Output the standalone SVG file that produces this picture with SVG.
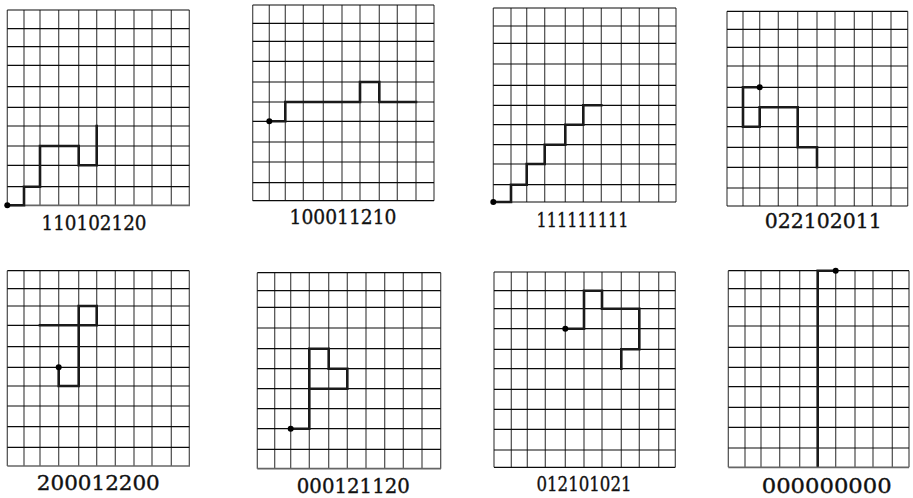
<svg xmlns="http://www.w3.org/2000/svg" width="913" height="498" viewBox="0 0 913 498">
<style>
.v{stroke:#4a4a4a;stroke-width:1.2;fill:none}
.h{stroke:#0a0a0a;stroke-width:1.2;fill:none}
.b{stroke:#666;stroke-width:1.7;fill:none}
.p{stroke:#1a1a1a;stroke-width:2.6;fill:none;stroke-linejoin:miter;stroke-linecap:square}
.d{fill:#000}
.t{font-family:"DejaVu Serif","Liberation Serif",serif;font-size:20.5px;fill:#111;stroke:#111;stroke-width:0.35;text-anchor:middle}
</style>
<rect width="913" height="498" fill="#fff"/>
<g id="panel1">
<path class="v" d="M7.3 10V205.3M24 10V205.3M40 10V205.3M58.7 10V205.3M78.7 10V205.3M96.7 10V205.3M115.3 10V205.3M134 10V205.3M152 10V205.3M171.3 10V205.3M189.3 10V205.3"/>
<path class="h" d="M7.3 10H189.3M7.3 28.7H189.3M7.3 46.7H189.3M7.3 65.3H189.3M7.3 86.7H189.3M7.3 107.3H189.3M7.3 126H189.3M7.3 146H189.3M7.3 165.3H189.3M7.3 186.7H189.3"/>
<path class="b" d="M7.3 205.3H190"/>
<path class="p" d="M7.3 205.3H24V186.7H40V146H78.7V165.3H96.7V126"/>
<circle class="d" cx="7.3" cy="205.3" r="3"/>
<text class="t" x="94" y="229.5" textLength="105" lengthAdjust="spacingAndGlyphs">110102120</text>
</g>
<g id="panel2">
<path class="v" d="M252.7 5V200.7M269.3 5V200.7M285.3 5V200.7M303.3 5V200.7M323.3 5V200.7M342 5V200.7M360 5V200.7M379.3 5V200.7M397.3 5V200.7M416 5V200.7M434 5V200.7"/>
<path class="h" d="M252.7 5H434M252.7 23.3H434M252.7 41.3H434M252.7 61.3H434M252.7 82H434M252.7 102H434M252.7 121.3H434M252.7 142H434M252.7 162H434M252.7 182.7H434M252.7 200.7H434"/>
<path class="p" d="M269.3 121.3H285.3V102H360V82H379.3V102H416"/>
<circle class="d" cx="269.3" cy="121.3" r="3"/>
<text class="t" x="343" y="223.5" textLength="107" lengthAdjust="spacingAndGlyphs">100011210</text>
</g>
<g id="panel3">
<path class="v" d="M493.3 8V202M511 8V202M526.7 8V202M544.7 8V202M565.3 8V202M583.3 8V202M601.3 8V202M621.3 8V202M639.3 8V202M658.7 8V202M676 8V202"/>
<path class="h" d="M493.3 8H676M493.3 26H676M493.3 43.3H676M493.3 64H676M493.3 85.3H676M493.3 105.3H676M493.3 124.7H676M493.3 144.7H676M493.3 164H676M493.3 184.7H676M493.3 202H676"/>
<path class="p" d="M493.3 202H511V184.7H526.7V164H544.7V144.7H565.3V124.7H583.3V105.3H601.3"/>
<circle class="d" cx="493.3" cy="202" r="3"/>
<text class="t" x="582.5" y="226.5" textLength="92" lengthAdjust="spacingAndGlyphs">111111111</text>
</g>
<g id="panel4">
<path class="v" d="M727 11.3V206M743 11.3V206M759.7 11.3V206M778.3 11.3V206M797.7 11.3V206M817 11.3V206M835 11.3V206M854.3 11.3V206M872.3 11.3V206M891 11.3V206M907.7 11.3V206"/>
<path class="h" d="M727 11.3H907.7M727 29.3H907.7M727 47.3H907.7M727 66H907.7M727 87.3H907.7M727 107.3H907.7M727 126.7H907.7M727 147.3H907.7M727 167.3H907.7M727 188H907.7M727 206H907.7"/>
<path class="p" d="M759.7 87.3H743V126.7H759.7V107.3H797.7V147.3H817V167.3"/>
<circle class="d" cx="759.7" cy="87.3" r="3"/>
<text class="t" x="823.3" y="228" textLength="117" lengthAdjust="spacingAndGlyphs">022102011</text>
</g>
<g id="panel5">
<path class="v" d="M7.3 270.7V466M24 270.7V466M40 270.7V466M58.7 270.7V466M78.7 270.7V466M96.7 270.7V466M115.3 270.7V466M134 270.7V466M152 270.7V466M171.3 270.7V466M189.3 270.7V466"/>
<path class="h" d="M7.3 270.7H189.3M7.3 288.7H189.3M7.3 306H189.3M7.3 325.3H189.3M7.3 346.7H189.3M7.3 367.3H189.3M7.3 386H189.3M7.3 406H189.3M7.3 426.7H189.3M7.3 447.3H189.3"/>
<path class="b" d="M7.3 466H190"/>
<path class="p" d="M58.7 367.3V386H78.7V306H96.7V325.3H40"/>
<circle class="d" cx="58.7" cy="367.3" r="3"/>
<text class="t" x="98.3" y="489.5" textLength="123" lengthAdjust="spacingAndGlyphs">200012200</text>
</g>
<g id="panel6">
<path class="v" d="M257.3 272.7V468.7M274.7 272.7V468.7M290.7 272.7V468.7M309.3 272.7V468.7M328.7 272.7V468.7M347.3 272.7V468.7M366 272.7V468.7M384.7 272.7V468.7M403.3 272.7V468.7M422 272.7V468.7M440.7 272.7V468.7"/>
<path class="h" d="M257.3 272.7H440.7M257.3 290.7H440.7M257.3 307.3H440.7M257.3 328H440.7M257.3 348.7H440.7M257.3 368.7H440.7M257.3 388.7H440.7M257.3 408.7H440.7M257.3 428.7H440.7M257.3 449.3H440.7"/>
<path class="b" d="M257.3 468.7H441"/>
<path class="p" d="M290.7 428.7H309.3V348.7H328.7V368.7H347.3V388.7H309.3"/>
<circle class="d" cx="290.7" cy="428.7" r="3"/>
<text class="t" x="353.3" y="492.5" textLength="113" lengthAdjust="spacingAndGlyphs">000121120</text>
</g>
<g id="panel7">
<path class="v" d="M494 272V467.3M511.3 272V467.3M527.3 272V467.3M545.3 272V467.3M565.3 272V467.3M584 272V467.3M602 272V467.3M621.3 272V467.3M639.3 272V467.3M658.7 272V467.3M675.3 272V467.3"/>
<path class="h" d="M494 272H675.3M494 290.7H675.3M494 308.7H675.3M494 328.7H675.3M494 349.3H675.3M494 368.7H675.3M494 389.3H675.3M494 409.3H675.3M494 429.3H675.3M494 450H675.3M494 467.3H675.3"/>
<path class="p" d="M565.3 328.7H584V290.7H602V308.7H639.3V349.3H621.3V368.7"/>
<circle class="d" cx="565.3" cy="328.7" r="3"/>
<text class="t" x="584" y="490.5" textLength="95" lengthAdjust="spacingAndGlyphs">012101021</text>
</g>
<g id="panel8">
<path class="v" d="M728.3 270.7V467.3M745 270.7V467.3M761 270.7V467.3M779.7 270.7V467.3M799.7 270.7V467.3M817.7 270.7V467.3M835.7 270.7V467.3M855 270.7V467.3M873 270.7V467.3M892.3 270.7V467.3M909 270.7V467.3"/>
<path class="h" d="M728.3 270.7H909M728.3 288.7H909M728.3 306.7H909M728.3 326H909M728.3 347.3H909M728.3 367.3H909M728.3 386.7H909M728.3 407.3H909M728.3 427.3H909M728.3 448H909"/>
<path class="b" d="M728.3 467.3H909"/>
<path class="p" d="M835.7 270.7H817.7V465.5"/>
<circle class="d" cx="835.7" cy="270.7" r="3"/>
<text class="t" x="826.7" y="492.5" textLength="130" lengthAdjust="spacingAndGlyphs">000000000</text>
</g>
</svg>
